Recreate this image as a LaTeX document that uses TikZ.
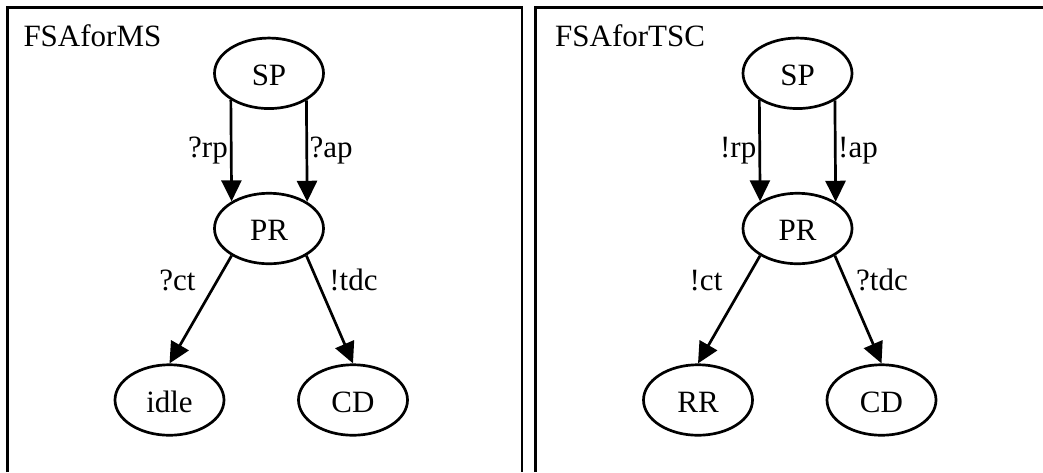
\documentclass[tikz,border=0pt]{standalone}
\usepackage{fontspec}
\setmainfont{Liberation Serif}
\usetikzlibrary{arrows.meta,shapes.geometric}
\begin{document}
\begin{tikzpicture}[x=1pt,y=-1pt,
  state/.style={draw, ellipse, line width=2.7pt, minimum width=109pt, minimum height=70.5pt,
    inner sep=0pt, text height=24pt, text depth=0pt, font=\fontsize{31}{36}\selectfont},
  lbl/.style={inner sep=0pt, font=\fontsize{31}{36}\selectfont},
  arr/.style={line width=2.7pt, -{Triangle[length=21pt,width=20pt]}},
  panel/.style={line width=2.7pt}]
\useasboundingbox (0,0) rectangle (1043,472);
% panels
\draw[panel] (7.3,472) -- (7.3,7.5) -- (522,7.5) -- (522,472);
\draw[panel] (535.8,472) -- (535.8,7.5) -- (1043,7.5);
\node[lbl, anchor=base west] (t1) at (23.3,46.7) {FSAforMS};
\node[lbl, anchor=base west] (t2) at (555,46.7) {FSAforTSC};
% left FSA
\node[state] (sp1) at (269,73.3) {SP};
\node[state] (pr1) at (269,228.5) {PR};
\node[state] (idle) at (169.5,400) {idle};
\node[state] (cd1) at (353,400) {CD};
\draw[arr] (sp1.215.2) -- (pr1.144.8);
\draw[arr] (sp1.324.8) -- (pr1.35.2);
\draw[arr] (pr1.216) -- (idle.north);
\draw[arr] (pr1.324) -- (cd1.north);
\node[lbl, anchor=base east] (l1) at (228,157) {?rp};
\node[lbl, anchor=base west] (l2) at (309.5,157) {?ap};
\node[lbl, anchor=base] (l3) at (177.5,290) {?ct};
\node[lbl, anchor=base] (l4) at (353.5,290) {!tdc};
% right FSA
\begin{scope}[xshift=528.5pt]
\node[state] (sp2) at (269,73.3) {SP};
\node[state] (pr2) at (269,228.5) {PR};
\node[state] (rr) at (169.5,400) {RR};
\node[state] (cd2) at (353,400) {CD};
\draw[arr] (sp2.215.2) -- (pr2.144.8);
\draw[arr] (sp2.324.8) -- (pr2.35.2);
\draw[arr] (pr2.216) -- (rr.north);
\draw[arr] (pr2.324) -- (cd2.north);
\node[lbl, anchor=base east] (r1) at (228,157) {!rp};
\node[lbl, anchor=base west] (r2) at (309.5,157) {!ap};
\node[lbl, anchor=base] (r3) at (177.5,290) {!ct};
\node[lbl, anchor=base] (r4) at (353.5,290) {?tdc};
\end{scope}
\end{tikzpicture}
\end{document}
